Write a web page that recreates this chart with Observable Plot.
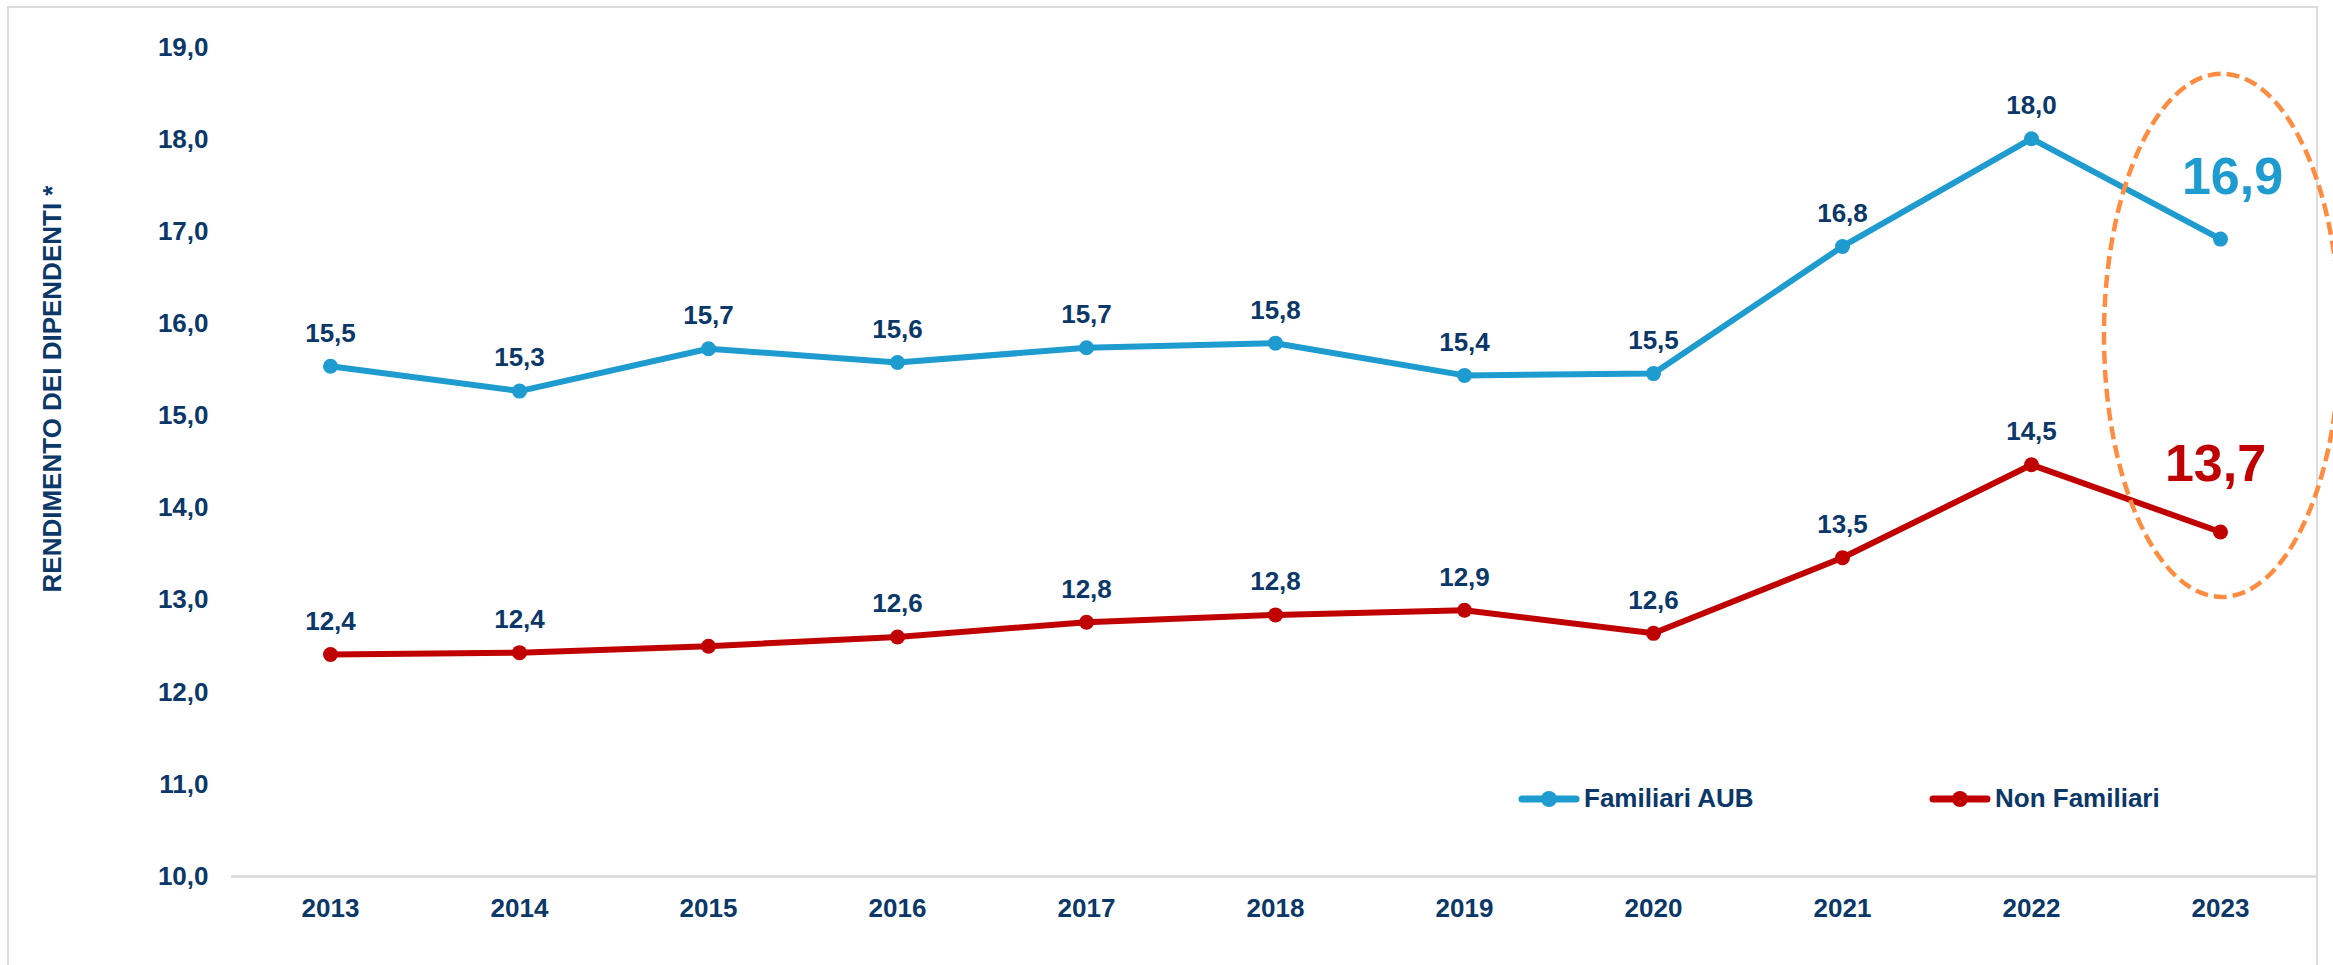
<!DOCTYPE html>
<html>
<head>
<meta charset="utf-8">
<script src="https://cdn.jsdelivr.net/npm/d3@7"></script>
<script src="https://cdn.jsdelivr.net/npm/@observablehq/plot@0.6"></script>
<style>
  html, body { margin: 0; padding: 0; background: #fff; }
  #wrap { position: relative; width: 2333px; height: 965px; overflow: hidden; font-family: "Liberation Sans", Arial, sans-serif; }
  #frame { position: absolute; left: 7px; top: 6px; width: 2311px; height: 1100px; border: 2px solid #dcdcdc; box-sizing: border-box; }
  #chart { position: absolute; left: 0; top: 0; }
  .legend { position: absolute; top: 783px; display: flex; align-items: center; font-weight: bold; font-size: 26px; color: #0b3868; white-space: nowrap; }
  .legend svg { margin-right: 4px; }
</style>
</head>
<body>
<div id="wrap">
  <div id="frame"></div>
  <div id="chart"></div>
  <div class="legend" id="leg1" style="left:1518px"></div>
  <div class="legend" id="leg2" style="left:1929px"></div>
</div>
<script>
// ---- data ----
const years = [2013, 2014, 2015, 2016, 2017, 2018, 2019, 2020, 2021, 2022, 2023];
const familiariAUB = [15.54, 15.27, 15.73, 15.58, 15.74, 15.79, 15.44, 15.46, 16.84, 18.01, 16.92];
const nonFamiliari = [12.41, 12.43, 12.50, 12.60, 12.76, 12.84, 12.89, 12.64, 13.46, 14.47, 13.74];
const seriesNames = ["Familiari AUB", "Non Familiari"];
const yTicks = [10, 11, 12, 13, 14, 15, 16, 17, 18, 19];
const highlightYear = 2023;
const unlabelled = [{serie: "Non Familiari", year: 2015}];
const yTitle = "RENDIMENTO DEI DIPENDENTI *";
const ellipseRange = [13.03, 18.71]; // value span circled around the last year

// ---- styles ----
const navy = "#0b3868";
const colors = {"Familiari AUB": "#1e9bcf", "Non Familiari": "#c00000"};
const orange = "#ff8c40";
const fmt = v => v.toFixed(1).replace(".", ",");

const rows = [];
years.forEach((yr, i) => {
  rows.push({serie: seriesNames[0], year: yr, value: familiariAUB[i]});
  rows.push({serie: seriesNames[1], year: yr, value: nonFamiliari[i]});
});
const isHidden = d => d.year === highlightYear || unlabelled.some(u => u.serie === d.serie && u.year === d.year);
const smallLabels = rows.filter(d => !isHidden(d));
const bigLabels = rows.filter(d => d.year === highlightYear);

const ellipseMark = (index, scales, values, dimensions) => {
  const ns = "http://www.w3.org/2000/svg";
  const e = document.createElementNS(ns, "ellipse");
  const cx = scales.x(highlightYear) + 2;
  const y0 = scales.y(ellipseRange[0]), y1 = scales.y(ellipseRange[1]);
  e.setAttribute("cx", cx);
  e.setAttribute("cy", (y0 + y1) / 2);
  e.setAttribute("rx", 118);
  e.setAttribute("ry", Math.abs(y0 - y1) / 2);
  e.setAttribute("fill", "none");
  e.setAttribute("stroke", orange);
  e.setAttribute("stroke-width", 4.5);
  e.setAttribute("stroke-dasharray", "13 6");
  return e;
};

const plot = Plot.plot({
  width: 2333,
  height: 965,
  marginLeft: 231,
  marginRight: 15,
  marginTop: 47,
  marginBottom: 89,
  style: {fontFamily: '"Liberation Sans", Arial, sans-serif', fontSize: "26px", fontWeight: "bold", color: navy, background: "transparent", overflow: "visible"},
  x: {type: "point", domain: years, padding: 0.5},
  y: {domain: [10, 19]},
  marks: [
    Plot.ruleY([10], {stroke: "#d9d9d9", strokeWidth: 2.5}),
    Plot.axisY({ticks: yTicks, tickFormat: fmt, tickSize: 0, tickPadding: 23, label: null, fontSize: 26}),
    Plot.axisX({tickSize: 0, tickPadding: 22, label: null, fontSize: 26, tickFormat: d => String(d)}),
    Plot.text([yTitle], {frameAnchor: "left", rotate: -90, dx: -179, dy: -73, fill: navy, fontSize: 26, fontWeight: "bold", textAnchor: "middle"}),
    Plot.line(rows, {x: "year", y: "value", z: "serie", stroke: d => colors[d.serie], strokeWidth: 6}),
    Plot.dot(rows, {x: "year", y: "value", r: 7.5, fill: d => colors[d.serie], stroke: null}),
    Plot.text(smallLabels, {x: "year", y: "value", text: d => fmt(d.value), dy: -33, fill: navy, fontSize: 26, fontWeight: "bold"}),
    Plot.text(bigLabels.filter(d => d.serie === seriesNames[0]), {x: "year", y: "value", text: d => fmt(d.value), dx: 12, dy: -62, fill: colors[seriesNames[0]], fontSize: 52, fontWeight: "bold"}),
    Plot.text(bigLabels.filter(d => d.serie === seriesNames[1]), {x: "year", y: "value", text: d => fmt(d.value), dx: -5, dy: -68, fill: colors[seriesNames[1]], fontSize: 52, fontWeight: "bold"}),
    ellipseMark
  ]
});
document.getElementById("chart").appendChild(plot);

function legendItem(el, name) {
  const c = colors[name];
  el.innerHTML = `<svg width="62" height="20"><line x1="4" y1="10" x2="58" y2="10" stroke="${c}" stroke-width="7" stroke-linecap="round"/><circle cx="31" cy="10" r="8" fill="${c}"/></svg><span>${name}</span>`;
}
legendItem(document.getElementById("leg1"), seriesNames[0]);
legendItem(document.getElementById("leg2"), seriesNames[1]);
</script>
</body>
</html>
